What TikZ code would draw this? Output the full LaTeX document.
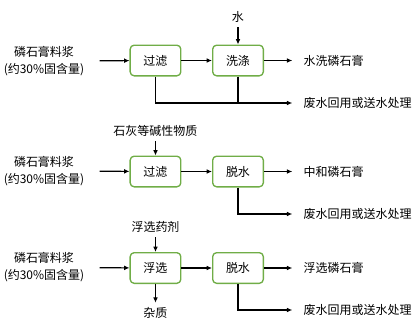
\documentclass[tikz,border=0pt]{standalone}
\usepackage{fontspec}
\setmainfont{Noto Sans CJK SC}
\usetikzlibrary{arrows.meta}
\definecolor{boxgreen}{RGB}{112,173,71}
\begin{document}
\begin{tikzpicture}[x=0.75pt,y=-0.75pt,
  font=\fontsize{9}{12.75}\selectfont,
  box/.style={draw=boxgreen,line width=1pt,rounded corners=3pt,minimum width=38pt,minimum height=23pt},
  arr/.style={-{Latex[length=4pt,width=3.5pt]},line width=0.9pt},
  ln/.style={line width=0.9pt},
  feed/.style={align=center},
  product/.style={anchor=west}]
\useasboundingbox (0,0) rectangle (419,326);

\node[feed] (s1) at (44,61) {磷石膏料浆\\(约30\%固含量)};
\node[box] (f1) at (155.5,60.5) {过滤};
\node[box] (b1) at (238,60.5) {洗涤};
\node (water) at (238,17) {水};
\node[product] (o1) at (299,60.5) {水洗磷石膏};
\node[product] (w1) at (299,103) {废水回用或送水处理};

\draw[arr,shorten <=8pt] (s1) -- (f1);
\draw[arr] (f1) -- (b1);
\draw[arr] (water) -- (b1);
\draw[arr,shorten >=5pt] (b1) -- (o1);
\draw[arr,shorten >=5pt] (f1.south) |- (w1.west);
\draw[ln] (b1.south) -- (b1.south |- w1.west);

\node[feed] (s2) at (44,171) {磷石膏料浆\\(约30\%固含量)};
\node[box] (f2) at (155.5,171.5) {过滤};
\node[box] (b2) at (238,171.5) {脱水};
\node (lime) at (155.5,131) {石灰等碱性物质};
\node[product] (o2) at (299,171.5) {中和磷石膏};
\node[product] (w2) at (299,214) {废水回用或送水处理};

\draw[arr,shorten <=8pt] (s2) -- (f2);
\draw[arr] (f2) -- (b2);
\draw[arr] (lime) -- (f2);
\draw[arr,shorten >=5pt] (b2) -- (o2);
\draw[arr,shorten >=5pt] (b2.south) |- (w2.west);

\node[feed] (s3) at (44,267.5) {磷石膏料浆\\(约30\%固含量)};
\node[box] (f3) at (155.5,268) {浮选};
\node[box] (b3) at (238,268) {脱水};
\node (agent) at (155.5,227) {浮选药剂};
\node (imp) at (155.5,313) {杂质};
\node[product] (o3) at (299,268) {浮选磷石膏};
\node[product] (w3) at (299,310) {废水回用或送水处理};

\draw[arr,shorten <=8pt] (s3) -- (f3);
\draw[arr] (f3) -- (b3);
\draw[arr] (agent) -- (f3);
\draw[arr] (f3) -- (imp);
\draw[arr,shorten >=5pt] (b3) -- (o3);
\draw[arr,shorten >=5pt] (b3.south) |- (w3.west);
\end{tikzpicture}
\end{document}
